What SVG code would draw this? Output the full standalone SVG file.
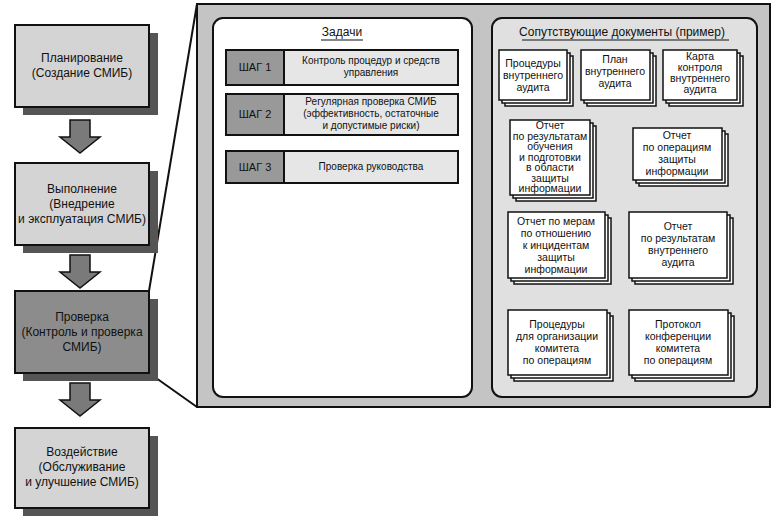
<svg xmlns="http://www.w3.org/2000/svg" width="776" height="525" viewBox="0 0 776 525">
<style>
text{font-family:"Liberation Sans",Arial,sans-serif;fill:#111;text-anchor:middle}
.lb{fill:#d4d4d4;stroke:#111;stroke-width:2}
.sh{fill:#555}
.t{font-size:12px}
.d{font-size:10.5px}
.s{font-size:10px}
.st{font-size:11px}
.doc{fill:#fff;stroke:#111;stroke-width:1.5}
.ar{fill:#7a7a7a;stroke:#111;stroke-width:1.5}
</style>
<rect width="776" height="525" fill="#fff"/>
<g id="connectors">
<path class="ar" d="M70,120H90V137H100L80,153L60,137H70Z"/>
<path class="ar" d="M70,255H90V272H100L80,288L60,272H70Z"/>
<path class="ar" d="M70,383H90V400H100L80,416L60,400H70Z"/>
<line x1="149" y1="291" x2="197" y2="4" stroke="#111" stroke-width="2"/>
<line x1="149" y1="373" x2="197" y2="407" stroke="#111" stroke-width="2"/>
<path d="M466,272H484V266L498,279L484,292V286H466Z" fill="#000"/>
</g>
<g id="n1"><rect class="sh" x="23" y="33" width="135" height="82"/><rect class="lb" x="15" y="25" width="134" height="82"/>
<text class="t" x="82" y="62">Планирование</text><text class="t" x="82" y="77">(Создание СМИБ)</text></g>
<g id="n2"><rect class="sh" x="23" y="171" width="135" height="82"/><rect class="lb" x="15" y="163" width="134" height="82"/>
<text class="t" x="82" y="193">Выполнение</text><text class="t" x="82" y="208">(Внедрение</text><text class="t" x="82" y="223">и эксплуатация СМИБ)</text></g>
<g id="n3"><rect class="sh" x="23" y="299" width="135" height="82"/><rect class="lb" x="15" y="291" width="134" height="82" style="fill:#8c8c8c"/>
<text class="t" x="82" y="321">Проверка</text><text class="t" x="82" y="336">(Контроль и проверка</text><text class="t" x="82" y="351">СМИБ)</text></g>
<g id="n4"><rect class="sh" x="23" y="436" width="135" height="80"/><rect class="lb" x="15" y="428" width="134" height="80"/>
<text class="t" x="82" y="456">Воздействие</text><text class="t" x="82" y="471">(Обслуживание</text><text class="t" x="82" y="486">и улучшение СМИБ)</text></g>
<g id="panel">
<rect x="197" y="4" width="573" height="403" fill="#c4c4c4" stroke="#111" stroke-width="2"/>
</g>
<g id="tasks">
<rect x="213" y="18" width="259" height="379" rx="10" fill="#fff" stroke="#111" stroke-width="2"/>
<text class="t" x="342" y="36">Задачи</text><line x1="321" y1="40" x2="363" y2="40" stroke="#111" stroke-width="1.2"/>
<rect x="226" y="50" width="232" height="35" fill="#e6e6e6" stroke="#111" stroke-width="2"/><rect x="226" y="50" width="58" height="35" fill="#999" stroke="#111" stroke-width="2"/>
<text class="st" x="255" y="71">ШАГ 1</text><text class="s" x="371" y="64">Контроль процедур и средств</text><text class="s" x="371" y="76">управления</text>
<rect x="226" y="94" width="232" height="41" fill="#e6e6e6" stroke="#111" stroke-width="2"/><rect x="226" y="94" width="58" height="41" fill="#999" stroke="#111" stroke-width="2"/>
<text class="st" x="255" y="118">ШАГ 2</text><text class="s" x="371" y="105">Регулярная проверка СМИБ</text><text class="s" x="371" y="117">(эффективность, остаточные</text><text class="s" x="371" y="129">и допустимые риски)</text>
<rect x="226" y="151" width="232" height="32" fill="#e6e6e6" stroke="#111" stroke-width="2"/><rect x="226" y="151" width="58" height="32" fill="#999" stroke="#111" stroke-width="2"/>
<text class="st" x="255" y="171">ШАГ 3</text><text class="s" x="371" y="170">Проверка руководства</text>
</g>
<g id="docs">
<rect x="492" y="18" width="265" height="379" rx="10" fill="#e0e0e0" stroke="#111" stroke-width="2"/>
<text class="t" x="622" y="36">Сопутствующие документы (пример)</text><line x1="522" y1="40" x2="729" y2="40" stroke="#111" stroke-width="1.2"/>
</g>
<g id="d1"><rect class="doc" x="505" y="56" width="68" height="50"/><rect class="doc" x="502" y="53" width="68" height="50"/><rect class="doc" x="499" y="50" width="68" height="50"/>
<text class="d" x="533" y="67">Процедуры</text><text class="d" x="533" y="79">внутреннего</text><text class="d" x="533" y="91">аудита</text></g>
<g id="d2"><rect class="doc" x="587" y="56" width="69" height="50"/><rect class="doc" x="584" y="53" width="69" height="50"/><rect class="doc" x="581" y="50" width="69" height="50"/>
<text class="d" x="615" y="63">План</text><text class="d" x="615" y="75">внутреннего</text><text class="d" x="615" y="87">аудита</text></g>
<g id="d3"><rect class="doc" x="669" y="56" width="74" height="50"/><rect class="doc" x="666" y="53" width="74" height="50"/><rect class="doc" x="663" y="50" width="74" height="50"/>
<text class="d" x="700" y="60">Карта</text><text class="d" x="700" y="71">контроля</text><text class="d" x="700" y="82">внутреннего</text><text class="d" x="700" y="93">аудита</text></g>
<g id="d4"><rect class="doc" x="516" y="126" width="80" height="75"/><rect class="doc" x="513" y="123" width="80" height="75"/><rect class="doc" x="510" y="120" width="80" height="75"/>
<text class="d" x="550" y="129">Отчет</text><text class="d" x="550" y="139.5">по результатам</text><text class="d" x="550" y="150">обучения</text><text class="d" x="550" y="160.5">и подготовки</text><text class="d" x="550" y="171">в области</text><text class="d" x="550" y="181.5">защиты</text><text class="d" x="550" y="192">информации</text></g>
<g id="d5"><rect class="doc" x="639" y="134" width="89" height="52"/><rect class="doc" x="636" y="131" width="89" height="52"/><rect class="doc" x="633" y="128" width="89" height="52"/>
<text class="d" x="677" y="139">Отчет</text><text class="d" x="677" y="151">по операциям</text><text class="d" x="677" y="163">защиты</text><text class="d" x="677" y="175">информации</text></g>
<g id="d6"><rect class="doc" x="514" y="218" width="97" height="66"/><rect class="doc" x="511" y="215" width="97" height="66"/><rect class="doc" x="508" y="212" width="97" height="66"/>
<text class="d" x="556" y="225">Отчет по мерам</text><text class="d" x="556" y="237">по отношению</text><text class="d" x="556" y="249">к инцидентам</text><text class="d" x="556" y="261">защиты</text><text class="d" x="556" y="273">информации</text></g>
<g id="d7"><rect class="doc" x="635" y="218" width="98" height="66"/><rect class="doc" x="632" y="215" width="98" height="66"/><rect class="doc" x="629" y="212" width="98" height="66"/>
<text class="d" x="678" y="230">Отчет</text><text class="d" x="678" y="242">по результатам</text><text class="d" x="678" y="254">внутреннего</text><text class="d" x="678" y="266">аудита</text></g>
<g id="d8"><rect class="doc" x="514" y="316" width="99" height="65"/><rect class="doc" x="511" y="313" width="99" height="65"/><rect class="doc" x="508" y="310" width="99" height="65"/>
<text class="d" x="557" y="328">Процедуры</text><text class="d" x="557" y="340">для организации</text><text class="d" x="557" y="352">комитета</text><text class="d" x="557" y="364">по операциям</text></g>
<g id="d9"><rect class="doc" x="635" y="316" width="99" height="65"/><rect class="doc" x="632" y="313" width="99" height="65"/><rect class="doc" x="629" y="310" width="99" height="65"/>
<text class="d" x="678" y="328">Протокол</text><text class="d" x="678" y="340">конференции</text><text class="d" x="678" y="352">комитета</text><text class="d" x="678" y="364">по операциям</text></g>
</svg>
